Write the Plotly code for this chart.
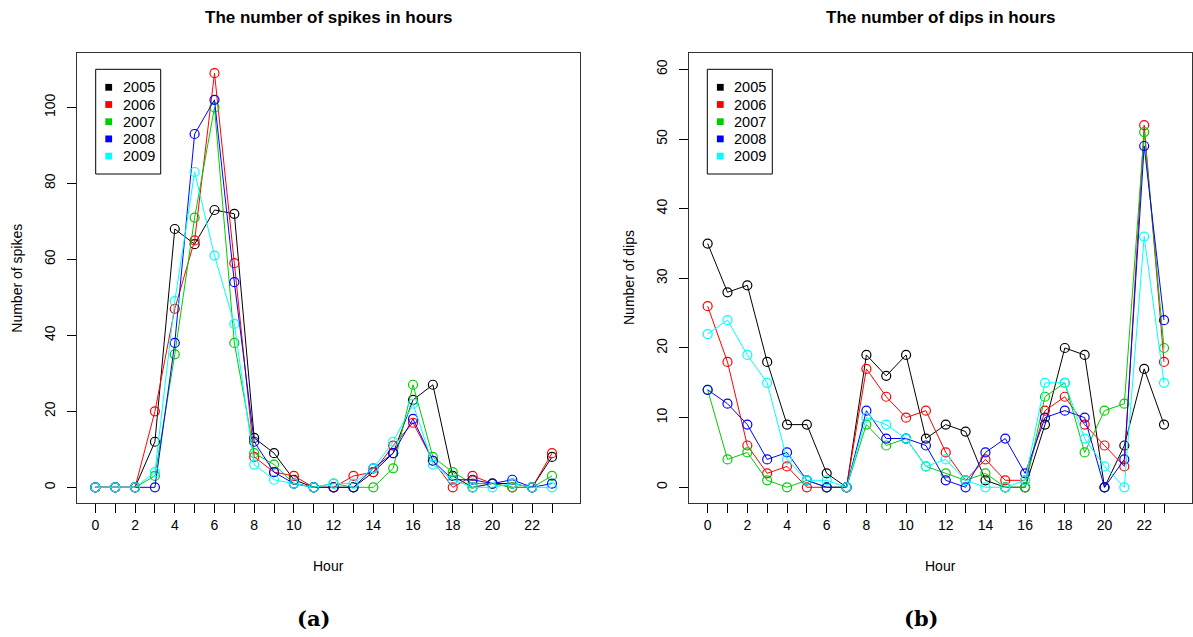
import plotly.graph_objects as go

hours = list(range(24))
years = ["2005", "2006", "2007", "2008", "2009"]
colors = ["#000000", "#FF0000", "#00CD00", "#0000FF", "#00FFFF"]

spikes_2005 = [0, 0, 0, 12, 68, 64, 73, 72, 13, 9, 2, 0, 0, 0, 4, 9, 23, 27, 3, 0, 1, 1, 0, 8]
spikes_2006 = [0, 0, 0, 20, 47, 65, 109, 59, 8, 4, 3, 0, 0, 3, 4, 11, 17, 7, 0, 3, 1, 0, 0, 9]
spikes_2007 = [0, 0, 0, 3, 35, 71, 100, 38, 9, 6, 1, 0, 1, 0, 0, 5, 27, 8, 4, 1, 1, 0, 0, 3]
spikes_2008 = [0, 0, 0, 0, 38, 93, 102, 54, 12, 4, 1, 0, 0, 0, 5, 9, 18, 7, 2, 2, 1, 2, 0, 1]
spikes_2009 = [0, 0, 0, 4, 49, 83, 61, 43, 6, 2, 1, 0, 1, 1, 5, 12, 22, 6, 2, 0, 0, 1, 0, 0]

dips_2005 = [35, 28, 29, 18, 9, 9, 2, 0, 19, 16, 19, 7, 9, 8, 1, 0, 0, 9, 20, 19, 0, 6, 17, 9]
dips_2006 = [26, 18, 6, 2, 3, 0, 0, 0, 17, 13, 10, 11, 5, 1, 4, 1, 1, 11, 13, 9, 6, 3, 52, 18]
dips_2007 = [14, 4, 5, 1, 0, 1, 0, 0, 9, 6, 7, 3, 2, 1, 2, 0, 0, 13, 15, 5, 11, 12, 51, 20]
dips_2008 = [14, 12, 9, 4, 5, 1, 0, 0, 11, 7, 7, 6, 1, 0, 5, 7, 2, 10, 11, 10, 0, 4, 49, 24]
dips_2009 = [22, 24, 19, 15, 4, 1, 1, 0, 10, 9, 7, 3, 4, 1, 0, 0, 1, 15, 15, 7, 3, 0, 36, 15]

spikes = [spikes_2005, spikes_2006, spikes_2007, spikes_2008, spikes_2009]
dips = [dips_2005, dips_2006, dips_2007, dips_2008, dips_2009]

x_ticktext = [str(h) if h % 2 == 0 else "" for h in hours]
spike_ticks = [0, 20, 40, 60, 80, 100]
dip_ticks = [0, 10, 20, 30, 40, 50, 60]

W, H = 1193, 637
FONT = "Liberation Sans, Arial, Helvetica, sans-serif"
SERIF = "DejaVu Serif, Liberation Serif, serif"

fig = go.Figure()

for i, (yr, col) in enumerate(zip(years, colors)):
    for xa, ya, vals in (("x", "y", spikes[i]), ("x2", "y2", dips[i])):
        fig.add_trace(go.Scatter(
            x=hours, y=vals, mode="lines+markers", xaxis=xa, yaxis=ya,
            line=dict(color=col, width=1),
            marker=dict(symbol="circle-open", size=9, color=col,
                        line=dict(width=1.2, color=col)),
            showlegend=False, name=yr))


def px_x(p):
    return p / W


def px_y(p):
    return 1 - p / H


box_top, box_bot = 52.7, 503.3
L1, R1 = 76.7, 580.0
L2, R2 = 689.0, 1192.0
ydom = [px_y(box_bot), px_y(box_top)]

xaxis_common = dict(
    range=[-0.94, 24.41], tickvals=hours, ticktext=x_ticktext, ticks="outside",
    ticklen=9, tickwidth=1, tickcolor="#000", showline=True, linecolor="#333",
    linewidth=1, mirror=True, showgrid=False, zeroline=False,
    tickfont=dict(family=FONT, size=14, color="#000"),
)
yaxis_common = dict(
    ticks="outside", ticklen=9, tickwidth=1, tickcolor="#000",
    showline=True, linecolor="#333", linewidth=1, mirror=True,
    showgrid=False, zeroline=False, tickangle=-90, ticklabelstandoff=6,
    tickfont=dict(family=FONT, size=14, color="#000"),
)

annotations = []
shapes = []
for (L, R, title, ytitle, label, lab_x) in (
        (L1, R1, "The number of spikes in hours", "Number of spikes", "(a)", 313),
        (L2, R2, "The number of dips in hours", "Number of dips", "(b)", 921)):
    cx = (L + R) / 2
    annotations.append(dict(text="<b>" + title + "</b>", x=px_x(cx), y=px_y(18),
                            xref="paper", yref="paper", showarrow=False,
                            xanchor="center", yanchor="middle",
                            font=dict(family=FONT, size=17, color="#000")))
    annotations.append(dict(text="Hour", x=px_x(cx), y=px_y(566), xref="paper", yref="paper",
                            showarrow=False, xanchor="center", yanchor="middle",
                            font=dict(family=FONT, size=14, color="#000")))
    annotations.append(dict(text=ytitle, x=px_x(L - 60), y=px_y((box_top + box_bot) / 2),
                            xref="paper", yref="paper", showarrow=False, textangle=-90,
                            xanchor="center", yanchor="middle",
                            font=dict(family=FONT, size=14, color="#000")))
    annotations.append(dict(text="<b>" + label + "</b>", x=px_x(lab_x), y=px_y(618),
                            xref="paper", yref="paper", showarrow=False,
                            xanchor="center", yanchor="middle",
                            font=dict(family=SERIF, size=21, color="#000")))

# legends (drawn as in the original: box, filled squares, year labels)
for bx in (95.7, 707.3):
    shapes.append(dict(type="rect", xref="paper", yref="paper",
                       x0=px_x(bx), x1=px_x(bx + 65), y0=px_y(174), y1=px_y(69.3),
                       line=dict(color="#000", width=1), fillcolor="white"))
    for i, (yr, col) in enumerate(zip(years, colors)):
        ry = 87.3 + 17.2 * i
        shapes.append(dict(type="rect", xref="paper", yref="paper",
                           x0=px_x(bx + 9.6), x1=px_x(bx + 16.4),
                           y0=px_y(ry + 3.4), y1=px_y(ry - 3.4),
                           line=dict(width=0), fillcolor=col))
        annotations.append(dict(text=yr, x=px_x(bx + 25), y=px_y(ry), xref="paper", yref="paper",
                                showarrow=False, xanchor="left", yanchor="middle",
                                font=dict(family=FONT, size=14.5, color="#000")))

fig.update_layout(
    width=W, height=H, autosize=False,
    margin=dict(l=0, r=0, t=0, b=0),
    paper_bgcolor="white", plot_bgcolor="white",
    font=dict(family=FONT, size=14, color="#000"),
    showlegend=False,
    xaxis=dict(domain=[px_x(L1), px_x(R1)], anchor="y", **xaxis_common),
    xaxis2=dict(domain=[px_x(L2), px_x(R2)], anchor="y2", **xaxis_common),
    yaxis=dict(domain=ydom, anchor="x", range=[-4.2, 114.4], tickvals=spike_ticks, **yaxis_common),
    yaxis2=dict(domain=ydom, anchor="x2", range=[-2.3, 62.4], tickvals=dip_ticks, **yaxis_common),
    annotations=annotations,
    shapes=shapes,
)

fig.write_html("out.html", post_script="document.body.style.margin='0';",
               config={"displayModeBar": False})
